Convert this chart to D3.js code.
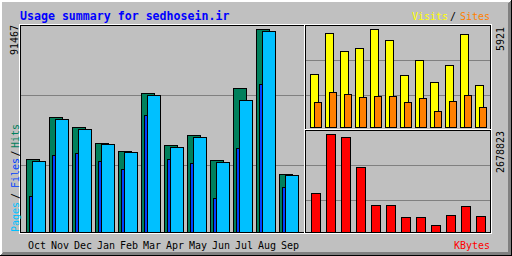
<!DOCTYPE html>
<html>
<head>
<meta charset="utf-8">
<script src="https://cdn.jsdelivr.net/npm/d3@7"></script>
<style>
  html, body { margin: 0; padding: 0; background: #c0c0c0; }
  svg { display: block; }
  text { font-family: 'DejaVu Sans Mono', monospace; font-size: 10px; }
</style>
</head>
<body>
<svg id="chart" width="512" height="256"></svg>
<script>
'use strict';

var title = 'Usage summary for sedhosein.ir';
var months = ['Oct','Nov','Dec','Jan','Feb','Mar','Apr','May','Jun','Jul','Aug','Sep'];

// main panel
var hits  = [32757, 51682, 47176, 39966, 36362, 62495, 39065, 43571, 32306, 64748, 91467, 25998];
var files = [31856, 50781, 46275, 39516, 35911, 61594, 38164, 42670, 31405, 59341, 90431, 25548];
var pages = [16221, 34695, 35460, 31991, 28386, 52717, 32892, 31090, 15320, 37849, 66685, 20276];

// top right panel
var visits = [3185, 5662, 4573, 4755, 5921, 5240, 3122, 4029, 2700, 3727, 5601, 2519];
var sites  = [1493, 2115, 1978, 1796, 1856, 1856, 1493, 1735,  948, 1553, 1917, 1191];

// bottom right panel
var kbytes = [1057000, 2678823, 2588000, 1768000, 729000, 729000, 402000, 402000, 183000, 455000, 701000, 429000];

(function() {

  var svg = d3.select('#chart');

  var grey = '#c0c0c0', dkgrey = '#808080', black = '#000000', white = '#ffffff';
  var hitColor = '#00805c', fileColor = '#00c0ff', pageColor = '#0040ff';
  var visitColor = '#ffff00', siteColor = '#ff8000', kbyteColor = '#ff0000';
  var titleColor = '#0000ff';

  // gd style pixel helpers (inclusive pixel coordinates)
  function hline(x1, x2, y, c) {
    svg.append('rect').attr('x', x1).attr('y', y).attr('width', x2 - x1 + 1).attr('height', 1).attr('fill', c);
  }
  function vline(x, y1, y2, c) {
    svg.append('rect').attr('x', x).attr('y', y1).attr('width', 1).attr('height', y2 - y1 + 1).attr('fill', c);
  }
  function box(x1, y1, x2, y2, c) {
    hline(x1, x2, y1, c); hline(x1, x2, y2, c);
    vline(x1, y1, y2, c); vline(x2, y1, y2, c);
  }

  // background + shadow border
  svg.append('rect').attr('width', 512).attr('height', 256).attr('fill', grey);
  for (var i = 0; i < 2; i++) {
    hline(0, 511 - i, i, white);
    vline(i, 0, 255 - i, white);
  }
  for (var j = 1; j < 4; j++) {
    hline(j, 511, 255 - j, dkgrey);
    vline(511 - j, j, 255, dkgrey);
  }
  hline(0, 511, 255, black);
  vline(511, 0, 255, black);

  // inner frame
  box(19, 24, 491, 233, white);
  box(20, 25, 490, 232, black);

  // section lines
  vline(304, 25, 232, white);
  vline(305, 25, 232, black);
  hline(305, 490, 129, white);
  hline(305, 490, 130, black);

  // grid lines
  [95, 165].forEach(function(y) { hline(21, 303, y, dkgrey); });
  [60, 95].forEach(function(y) { hline(306, 489, y, dkgrey); });
  [165, 200].forEach(function(y) { hline(306, 489, y, dkgrey); });

  // scales
  var xMain = d3.scaleBand().domain(months).range([26, 26 + 23 * months.length]);
  var xTop  = d3.scaleBand().domain(months).range([310, 310 + 15 * months.length]);
  var xBot  = d3.scaleBand().domain(months).range([311, 311 + 15 * months.length]);

  var maxHits = d3.max(hits), maxVisits = d3.max([d3.max(visits), d3.max(sites)]), maxK = d3.max(kbytes);
  var yMain = d3.scaleLinear().domain([0, maxHits]).range([232, 29]);
  var yTop  = d3.scaleLinear().domain([0, maxVisits]).range([127, 29]);
  var yBot  = d3.scaleLinear().domain([0, maxK]).range([232, 134]);

  function bars(values, x, y, dx, w, base, color) {
    var g = svg.append('g');
    g.selectAll('rect').data(values).enter().append('rect')
      .attr('x', function(d, i) { return x(months[i]) + dx + 0.5; })
      .attr('y', function(d) { return Math.round(y(d)) + 0.5; })
      .attr('width', w)
      .attr('height', function(d) { return base - Math.round(y(d)); })
      .attr('fill', color)
      .attr('stroke', black)
      .attr('stroke-width', 1)
      .attr('shape-rendering', 'crispEdges');
  }

  bars(hits,  xMain, yMain, 0, 13, 232, hitColor);
  bars(pages, xMain, yMain, 3, 3, 232, pageColor);
  bars(files, xMain, yMain, 6, 13, 232, fileColor);

  bars(visits, xTop, yTop, 0, 8, 127, visitColor);
  bars(sites,  xTop, yTop, 4, 7, 127, siteColor);

  bars(kbytes, xBot, yBot, 0, 9, 232, kbyteColor);

  // month labels
  svg.append('g').selectAll('text').data(months).enter().append('text')
    .attr('x', function(d) { return xMain(d) + 2; })
    .attr('y', 249)
    .attr('fill', black)
    .text(function(d) { return d; });

  // title
  svg.append('text')
    .attr('x', 20).attr('y', 20)
    .attr('fill', titleColor)
    .style('font-weight', 'bold')
    .style('font-size', '11.6px')
    .text(title);

  // right legends
  svg.append('text').attr('x', 412).attr('y', 20).attr('fill', visitColor).text('Visits');
  svg.append('text').attr('x', 450).attr('y', 20).attr('fill', black).text('/');
  svg.append('text').attr('x', 460).attr('y', 20).attr('fill', siteColor).text('Sites');
  svg.append('text').attr('x', 454).attr('y', 249).attr('fill', kbyteColor).text('KBytes');

  // vertical texts
  function upText(x, y, s, c) {
    svg.append('text')
      .attr('transform', 'translate(' + x + ',' + y + ') rotate(-90)')
      .attr('fill', c)
      .text(s);
  }
  upText(18.5, 232, 'Pages', fileColor);
  upText(18.5, 199, '/', black);
  upText(18.5, 188, 'Files', pageColor);
  upText(18.5, 156.5, '/', black);
  upText(18.5, 148, 'Hits', hitColor);

  upText(18, 55, String(maxHits), black);
  upText(504, 51, String(d3.max(visits)), black);
  upText(504, 173, String(maxK), black);

})();
</script>
</body>
</html>
